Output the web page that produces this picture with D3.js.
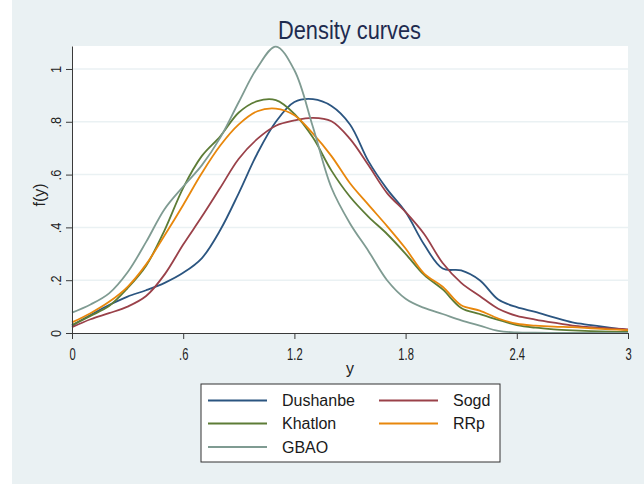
<!DOCTYPE HTML>
<html>
<head>
    <title>Density curves</title>
    <script type="text/javascript" src="https://cdn.jsdelivr.net/npm/d3@7/dist/d3.min.js"></script>
    <style>
        body {
            margin: 0;
            background-color: white;
        }
        text {
            font-family: "Liberation Sans", Arial, sans-serif;
        }
        .grid {
            stroke: #eaf1f3;
            stroke-width: 1.5;
        }
        .axis path, .axis line {
            stroke: #3a3a3a;
            stroke-width: 1;
        }
    </style>
</head>

<body>
    <div id="panel"></div>

    <script>
        // data
        var x_vals   = [0, 0.1, 0.2, 0.3, 0.4, 0.5, 0.6, 0.7, 0.8, 0.9, 1.0, 1.1, 1.2, 1.3, 1.4, 1.5,
                        1.6, 1.7, 1.8, 1.9, 2.0, 2.1, 2.2, 2.3, 2.4, 2.5, 2.6, 2.7, 2.8, 2.9, 3.0];
        var dushanbe = [0.028, 0.068, 0.106, 0.138, 0.162, 0.19, 0.228, 0.283, 0.39, 0.53, 0.68, 0.80, 0.875, 0.886, 0.86, 0.79,
                        0.65, 0.545, 0.458, 0.335, 0.244, 0.237, 0.20, 0.127, 0.098, 0.08, 0.059, 0.04, 0.03, 0.02, 0.011];
        var sogd     = [0.022, 0.052, 0.075, 0.10, 0.14, 0.222, 0.335, 0.44, 0.55, 0.66, 0.735, 0.785, 0.805, 0.815, 0.802, 0.735,
                        0.635, 0.53, 0.458, 0.375, 0.265, 0.19, 0.14, 0.092, 0.065, 0.051, 0.039, 0.028, 0.022, 0.017, 0.014];
        var khatlon  = [0.03, 0.065, 0.102, 0.17, 0.255, 0.39, 0.55, 0.67, 0.745, 0.835, 0.878, 0.882, 0.83, 0.74, 0.615, 0.516,
                        0.44, 0.375, 0.30, 0.22, 0.165, 0.095, 0.072, 0.05, 0.03, 0.02, 0.014, 0.01, 0.007, 0.005, 0.004];
        var rrp      = [0.04, 0.075, 0.118, 0.175, 0.26, 0.37, 0.485, 0.605, 0.71, 0.79, 0.84, 0.85, 0.825, 0.755, 0.67, 0.567,
                        0.485, 0.405, 0.32, 0.225, 0.175, 0.105, 0.085, 0.055, 0.035, 0.028, 0.024, 0.022, 0.018, 0.014, 0.011];
        var gbao     = [0.077, 0.108, 0.15, 0.23, 0.345, 0.47, 0.555, 0.635, 0.74, 0.875, 1.005, 1.085, 0.995, 0.78, 0.55, 0.415,
                        0.31, 0.2, 0.13, 0.095, 0.072, 0.048, 0.028, 0.008, 0.002, 0.001, 0.0005, 0, 0, 0, 0];

        var series_names  = ["Dushanbe", "Sogd", "Khatlon", "RRp", "GBAO"];
        var series_values = [dushanbe, sogd, khatlon, rrp, gbao];
        var series_colors = ["#2b5580", "#9a4149", "#5d7c36", "#e8870c", "#7f9b92"];

        var x_ticks = [0, 0.6, 1.2, 1.8, 2.4, 3];
        var x_tick_labels = ["0", ".6", "1.2", "1.8", "2.4", "3"];
        var y_ticks = [0, 0.2, 0.4, 0.6, 0.8, 1];
        var y_tick_labels = ["0", ".2", ".4", ".6", ".8", "1"];
    </script>

    <script>
        var width = 644, height = 487;
        var plot = {left: 72, right: 628, top: 46, bottom: 333};
        var y_top = 1.087;

        var svg = d3.select("#panel").append("svg")
                    .attr("width", width)
                    .attr("height", height);

        // outer graph region
        svg.append("rect")
           .attr("x", 12).attr("y", 0)
           .attr("width", width - 12).attr("height", 484)
           .attr("fill", "#eaf1f3");

        svg.append("rect")
           .attr("x", plot.left).attr("y", plot.top)
           .attr("width", plot.right - plot.left).attr("height", plot.bottom - plot.top)
           .attr("fill", "white");

        var x = d3.scaleLinear().domain([0, 3]).range([plot.left, plot.right]);
        var y = d3.scaleLinear().domain([0, y_top]).range([plot.bottom, plot.top]);

        // horizontal grid
        svg.append("g").selectAll("line")
           .data(y_ticks.slice(1))
           .enter().append("line")
           .attr("class", "grid")
           .attr("x1", plot.left).attr("x2", plot.right)
           .attr("y1", function(d){ return y(d); })
           .attr("y2", function(d){ return y(d); });

        // curves
        var line = d3.line()
                     .x(function(d){ return x(d[0]); })
                     .y(function(d){ return y(d[1]); })
                     .curve(d3.curveCatmullRom);

        for(var i = 0; i < series_values.length; ++i)
        {
            var pts = x_vals.map(function(v, j){ return [v, series_values[i][j]]; });
            svg.append("path")
               .datum(pts)
               .attr("d", line)
               .attr("fill", "none")
               .attr("stroke", series_colors[i])
               .attr("stroke-width", 1.8);
        }

        // axes
        var x_axis = svg.append("g")
                        .attr("class", "axis")
                        .attr("transform", "translate(0," + plot.bottom + ")")
                        .call(d3.axisBottom(x)
                                .tickValues(x_ticks)
                                .tickFormat(function(d, i){ return x_tick_labels[i]; })
                                .tickSize(6).tickSizeOuter(0).tickPadding(10));
        x_axis.selectAll("text")
              .attr("font-size", 16)
              .attr("fill", "#222")
              .attr("transform", "scale(0.7,1)");

        var y_axis = svg.append("g")
                        .attr("class", "axis")
                        .attr("transform", "translate(" + plot.left + ",0)")
                        .call(d3.axisLeft(y)
                                .tickValues(y_ticks)
                                .tickFormat(function(d, i){ return y_tick_labels[i]; })
                                .tickSize(6).tickSizeOuter(0));
        y_axis.selectAll("text")
              .attr("font-size", 15)
              .attr("fill", "#222")
              .attr("text-anchor", "middle")
              .attr("x", 0).attr("y", -11).attr("dy", 0)
              .attr("transform", "rotate(-90) scale(0.85,1)");
        svg.selectAll(".axis .domain").attr("stroke", "#3a3a3a");

        // titles
        svg.append("text")
           .attr("x", 349.5).attr("y", 39)
           .attr("text-anchor", "middle")
           .attr("font-size", 25)
           .attr("textLength", 143)
           .attr("lengthAdjust", "spacingAndGlyphs")
           .attr("fill", "#1e2b4f")
           .text("Density curves");

        svg.append("text")
           .attr("x", 350).attr("y", 374)
           .attr("text-anchor", "middle")
           .attr("font-size", 16)
           .attr("fill", "#222")
           .text("y");

        svg.append("text")
           .attr("transform", "translate(45,195) rotate(-90)")
           .attr("text-anchor", "middle")
           .attr("font-size", 16)
           .attr("fill", "#222")
           .text("f(y)");

        // legend
        var legend = {x: 201, y: 384, w: 299, h: 78};
        svg.append("rect")
           .attr("x", legend.x).attr("y", legend.y)
           .attr("width", legend.w).attr("height", legend.h)
           .attr("fill", "white")
           .attr("stroke", "#333")
           .attr("stroke-width", 1);

        var col_x = [208, 379];
        var row_y = [400.5, 423.5, 447];
        for(var i = 0; i < series_names.length; ++i)
        {
            var cx = col_x[i % 2], cy = row_y[Math.floor(i / 2)];
            svg.append("line")
               .attr("x1", cx).attr("x2", cx + 59)
               .attr("y1", cy).attr("y2", cy)
               .attr("stroke", series_colors[i])
               .attr("stroke-width", 1.8);
            svg.append("text")
               .attr("x", cx + 74).attr("y", cy + 5.5)
               .attr("font-size", 16)
               .attr("fill", "#1a1a1a")
               .text(series_names[i]);
        }
    </script>
</body>
</html>
